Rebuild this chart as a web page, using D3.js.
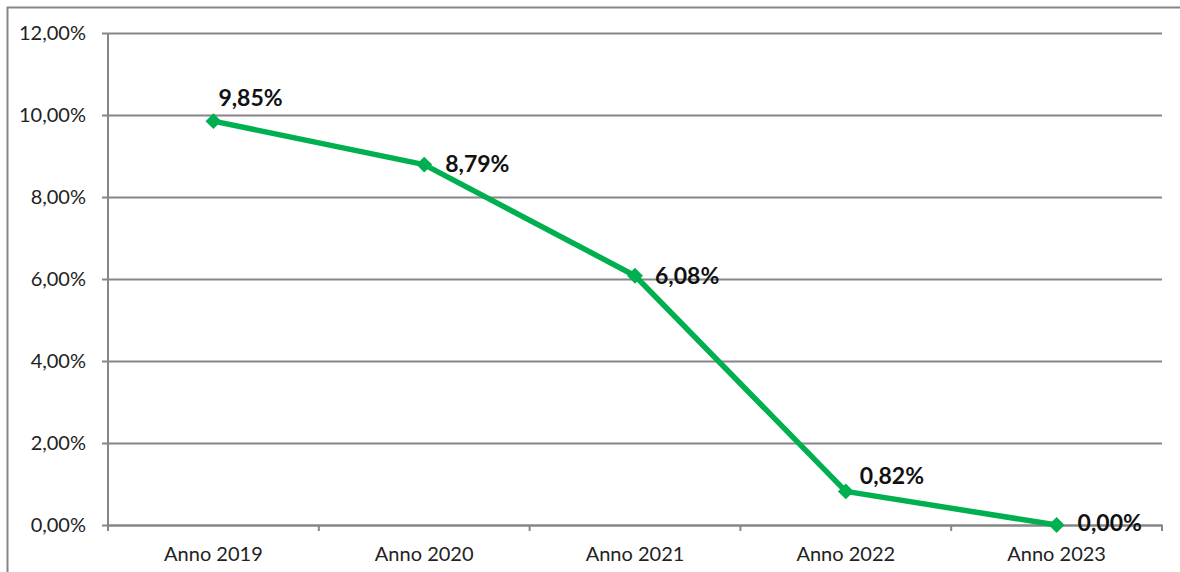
<!DOCTYPE html>
<html>
<head>
<meta charset="utf-8">
<script src="https://cdn.jsdelivr.net/npm/d3@7/dist/d3.min.js"></script>
<style>
  html, body { margin: 0; padding: 0; background: #fff; }
  svg { display: block; }
</style>
</head>
<body>
<svg id="chart" width="1180" height="572"></svg>
<script>
// Yearly percentage values
const categories = ["Anno 2019", "Anno 2020", "Anno 2021", "Anno 2022", "Anno 2023"];
const values = [9.85, 8.79, 6.08, 0.82, 0.00];
const yTicks = [0, 2, 4, 6, 8, 10, 12];

const fmt = v => v.toFixed(2).replace(".", ",") + "%";

const svg = d3.select("#chart");
const W = 1180, H = 572;
const margin = { left: 108, right: 18, top: 33, bottom: 47 };
const font = "Lato, 'Open Sans', 'Liberation Sans', sans-serif";
const gridColor = "#868686";
const green = "#00B050";

// Outer chart border
svg.append("rect")
  .attr("x", 7.5).attr("y", 7.5)
  .attr("width", W + 10).attr("height", H + 10)
  .attr("fill", "none").attr("stroke", gridColor).attr("stroke-width", 2);

const x = d3.scaleBand().domain(categories)
  .range([margin.left, W - margin.right]).padding(0);
const y = d3.scaleLinear().domain([0, 12])
  .range([H - margin.bottom, margin.top]);

// Horizontal gridlines with short ticks to the left
const gy = svg.append("g")
  .attr("transform", `translate(${margin.left},0)`)
  .call(d3.axisLeft(y).tickValues(yTicks).tickFormat(fmt)
    .tickSize(-(W - margin.right - margin.left)).tickSizeOuter(0).tickPadding(22));
gy.select(".domain").remove();
gy.selectAll(".tick line")
  .attr("stroke", gridColor).attr("stroke-width", 2)
  .attr("x1", -6);
gy.selectAll(".tick text")
  .attr("font-family", font).attr("font-size", 20).attr("fill", "#222");

// Vertical axis line
svg.append("line")
  .attr("x1", margin.left).attr("x2", margin.left)
  .attr("y1", y(12)).attr("y2", y(0) + 6)
  .attr("stroke", gridColor).attr("stroke-width", 2);

// Category axis with ticks at band edges
const gx = svg.append("g")
  .attr("transform", `translate(0,${y(0)})`)
  .call(d3.axisBottom(x).tickSize(0).tickPadding(22));
gx.select(".domain").attr("stroke", gridColor).attr("stroke-width", 2);
gx.selectAll(".tick text")
  .attr("font-family", font).attr("font-size", 20).attr("fill", "#222");
const edges = categories.map(c => x(c)).concat([x(categories[categories.length - 1]) + x.bandwidth()]);
svg.append("g").selectAll("line").data(edges).join("line")
  .attr("x1", d => d).attr("x2", d => d)
  .attr("y1", y(0)).attr("y2", y(0) + 6)
  .attr("stroke", gridColor).attr("stroke-width", 2);

const pts = categories.map((c, i) => ({ c, v: values[i], px: x(c) + x.bandwidth() / 2, py: y(values[i]) }));

// Series line
svg.append("path")
  .datum(pts)
  .attr("d", d3.line().x(d => d.px).y(d => d.py))
  .attr("fill", "none").attr("stroke", green).attr("stroke-width", 5.5)
  .attr("stroke-linejoin", "round");

// Diamond markers
svg.append("g").selectAll("path").data(pts).join("path")
  .attr("transform", d => `translate(${d.px},${d.py})`)
  .attr("d", d3.symbol().type(d3.symbolDiamond2).size(160))
  .attr("fill", green);

// Data labels
const labelOffsets = [[5, -21], [21, 1], [20, 2], [14, -13], [21, 0]];
svg.append("g").selectAll("text").data(pts).join("text")
  .attr("x", (d, i) => d.px + labelOffsets[i][0])
  .attr("y", (d, i) => d.py + labelOffsets[i][1])
  .attr("dominant-baseline", "middle")
  .attr("font-family", font).attr("font-size", 23).attr("font-weight", "bold")
  .attr("fill", "#111")
  .text(d => fmt(d.v));
</script>
</body>
</html>
